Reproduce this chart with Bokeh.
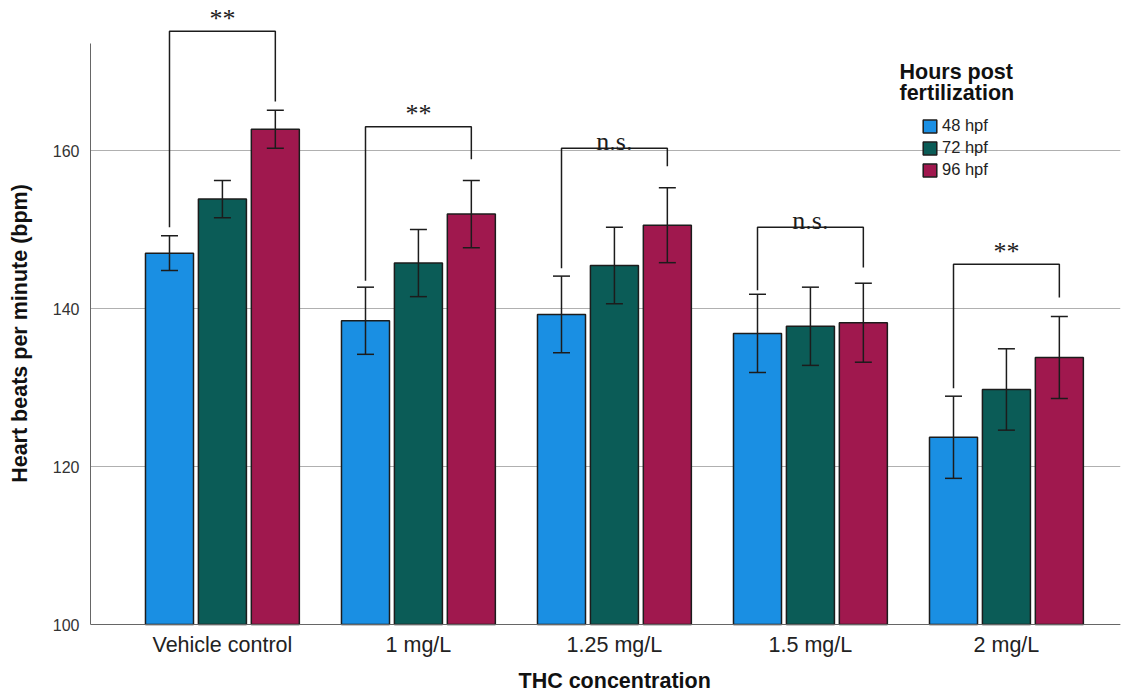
from bokeh.plotting import figure
from bokeh.models import (ColumnDataSource, Whisker, TeeHead, Legend, LegendItem,
                          Label, FixedTicker, Range1d, Title, Span)
from bokeh.core.properties import value
from bokeh.embed import file_html
from bokeh.resources import INLINE

categories = ["Vehicle control", "1 mg/L", "1.25 mg/L", "1.5 mg/L", "2 mg/L"]
series = ["48 hpf", "72 hpf", "96 hpf"]
mean_48 = [147.0, 138.45, 139.25, 136.85, 123.7]
mean_72 = [153.85, 145.75, 145.45, 137.75, 129.75]
mean_96 = [162.7, 151.95, 150.55, 138.2, 133.8]
err_48 = [2.2, 4.25, 4.85, 4.95, 5.2]
err_72 = [2.35, 4.25, 4.85, 4.95, 5.15]
err_96 = [2.4, 4.25, 4.75, 5.0, 5.2]
sig_labels = ["**", "**", "n.s.", "n.s.", "**"]
bracket_top = [175.1, 163.0, 160.3, 150.3, 145.6]
bracket_left_end = [150.3, 143.5, 145.1, 142.3, 129.9]
bracket_right_end = [166.2, 158.9, 158.0, 145.2, 141.4]
y_ticks = [100, 120, 140, 160]
y_base = 100

colors = ["#1a8fe3", "#0b5c57", "#a0184e"]
offsets = [-0.27, 0.0, 0.27]
bar_w = 0.245
FONT = "Liberation Sans"
PX = 7.9  # pixels per bpm

p = figure(width=1130, height=694, output_backend="svg", toolbar_location=None,
           x_axis_location=None,
           x_range=Range1d(-0.673, 4.582),
           y_range=Range1d(y_base - 42 / PX, y_base + 624 / PX),
           min_border_left=90, min_border_right=10, min_border_top=0, min_border_bottom=28)
p.outline_line_color = None
p.background_fill_color = "white"
p.xgrid.visible = False
p.xgrid.grid_line_color = None

means = [mean_48, mean_72, mean_96]
errs = [err_48, err_72, err_96]
idx = list(range(len(categories)))
renderers = []
for k in range(3):
    xs = [i + offsets[k] for i in idx]
    src = ColumnDataSource(dict(
        x=xs, top=means[k],
        upper=[m + e for m, e in zip(means[k], errs[k])],
        lower=[m - e for m, e in zip(means[k], errs[k])]))
    r = p.vbar(x="x", top="top", bottom=y_base, width=bar_w, source=src,
               fill_color=colors[k], line_color="#1c1c1c", line_width=1.5)
    renderers.append(r)
    w = Whisker(base="x", upper="upper", lower="lower", source=src,
                line_color="#1c1c1c", line_width=1.5, level="annotation",
                upper_head=TeeHead(size=17, line_color="#1c1c1c", line_width=1.5),
                lower_head=TeeHead(size=17, line_color="#1c1c1c", line_width=1.5))
    p.add_layout(w)

# baseline (x axis line)
p.add_layout(Span(location=y_base, dimension="width", line_color="#666666", line_width=1))

# category labels
p.text(x=idx, y=[y_base] * len(idx), text=categories, text_font=value(FONT),
       text_font_size="21.5px", text_align="center", text_baseline="middle",
       y_offset=20, text_color="#222222")

# significance brackets
bxs = [[i + offsets[0], i + offsets[0], i + offsets[2], i + offsets[2]] for i in idx]
bys = [[bracket_left_end[i], bracket_top[i], bracket_top[i], bracket_right_end[i]] for i in idx]
p.multi_line(xs=bxs, ys=bys, line_color="#1c1c1c", line_width=1.5)
txt_src = ColumnDataSource(dict(x=idx, y=bracket_top, text=sig_labels,
                                yoff=[-13 if s == "**" else -7 for s in sig_labels]))
p.text(x="x", y="y", text="text", source=txt_src, text_font=value("Liberation Serif"),
       text_font_size="26px", text_align="center", text_baseline="alphabetic",
       y_offset="yoff", text_color="#1c1c1c")

# y axis
p.yaxis.ticker = FixedTicker(ticks=y_ticks)
p.yaxis.bounds = (100, 173.5)
p.yaxis.axis_line_color = "#666666"
p.yaxis.major_tick_line_color = None
p.yaxis.minor_tick_line_color = None
p.yaxis.major_tick_out = 0
p.yaxis.major_tick_in = 0
p.yaxis.major_label_standoff = 11
p.yaxis.major_label_text_font = FONT
p.yaxis.major_label_text_font_size = "16px"
p.yaxis.major_label_text_color = "#333333"
p.yaxis.axis_label = "Heart beats per minute (bpm)"
p.yaxis.axis_label_text_font = FONT
p.yaxis.axis_label_text_font_size = "21.5px"
p.yaxis.axis_label_text_font_style = "bold"
p.yaxis.axis_label_text_color = "#111111"
p.yaxis.axis_label_standoff = 18

p.ygrid.grid_line_color = "#b0b0b0"
p.ygrid.grid_line_width = 1

# x title
p.add_layout(Title(text="THC concentration", align="left", offset=428,
                   standoff=1, text_font=FONT, text_font_size="21.5px",
                   text_font_style="bold", text_color="#111111"), "below")

# legend
items = [LegendItem(label=series[k], renderers=[renderers[k]]) for k in range(3)]
legend = Legend(items=items, location=(831, 487), glyph_width=17, glyph_height=16,
                label_height=16, spacing=3, padding=0, margin=0, label_standoff=4,
                label_text_font=FONT, label_text_font_size="16.5px", label_text_color="#222222",
                border_line_color=None, background_fill_alpha=0)
p.add_layout(legend)
p.add_layout(Label(x=809, y=595, x_units="screen", y_units="screen", text="Hours post",
                   text_font=FONT, text_font_size="21.5px", text_font_style="bold",
                   text_baseline="middle", text_color="#111111"))
p.add_layout(Label(x=809, y=574, x_units="screen", y_units="screen", text="fertilization",
                   text_font=FONT, text_font_size="21.5px", text_font_style="bold",
                   text_baseline="middle", text_color="#111111"))

open("out.html", "w").write(file_html(p, INLINE))
